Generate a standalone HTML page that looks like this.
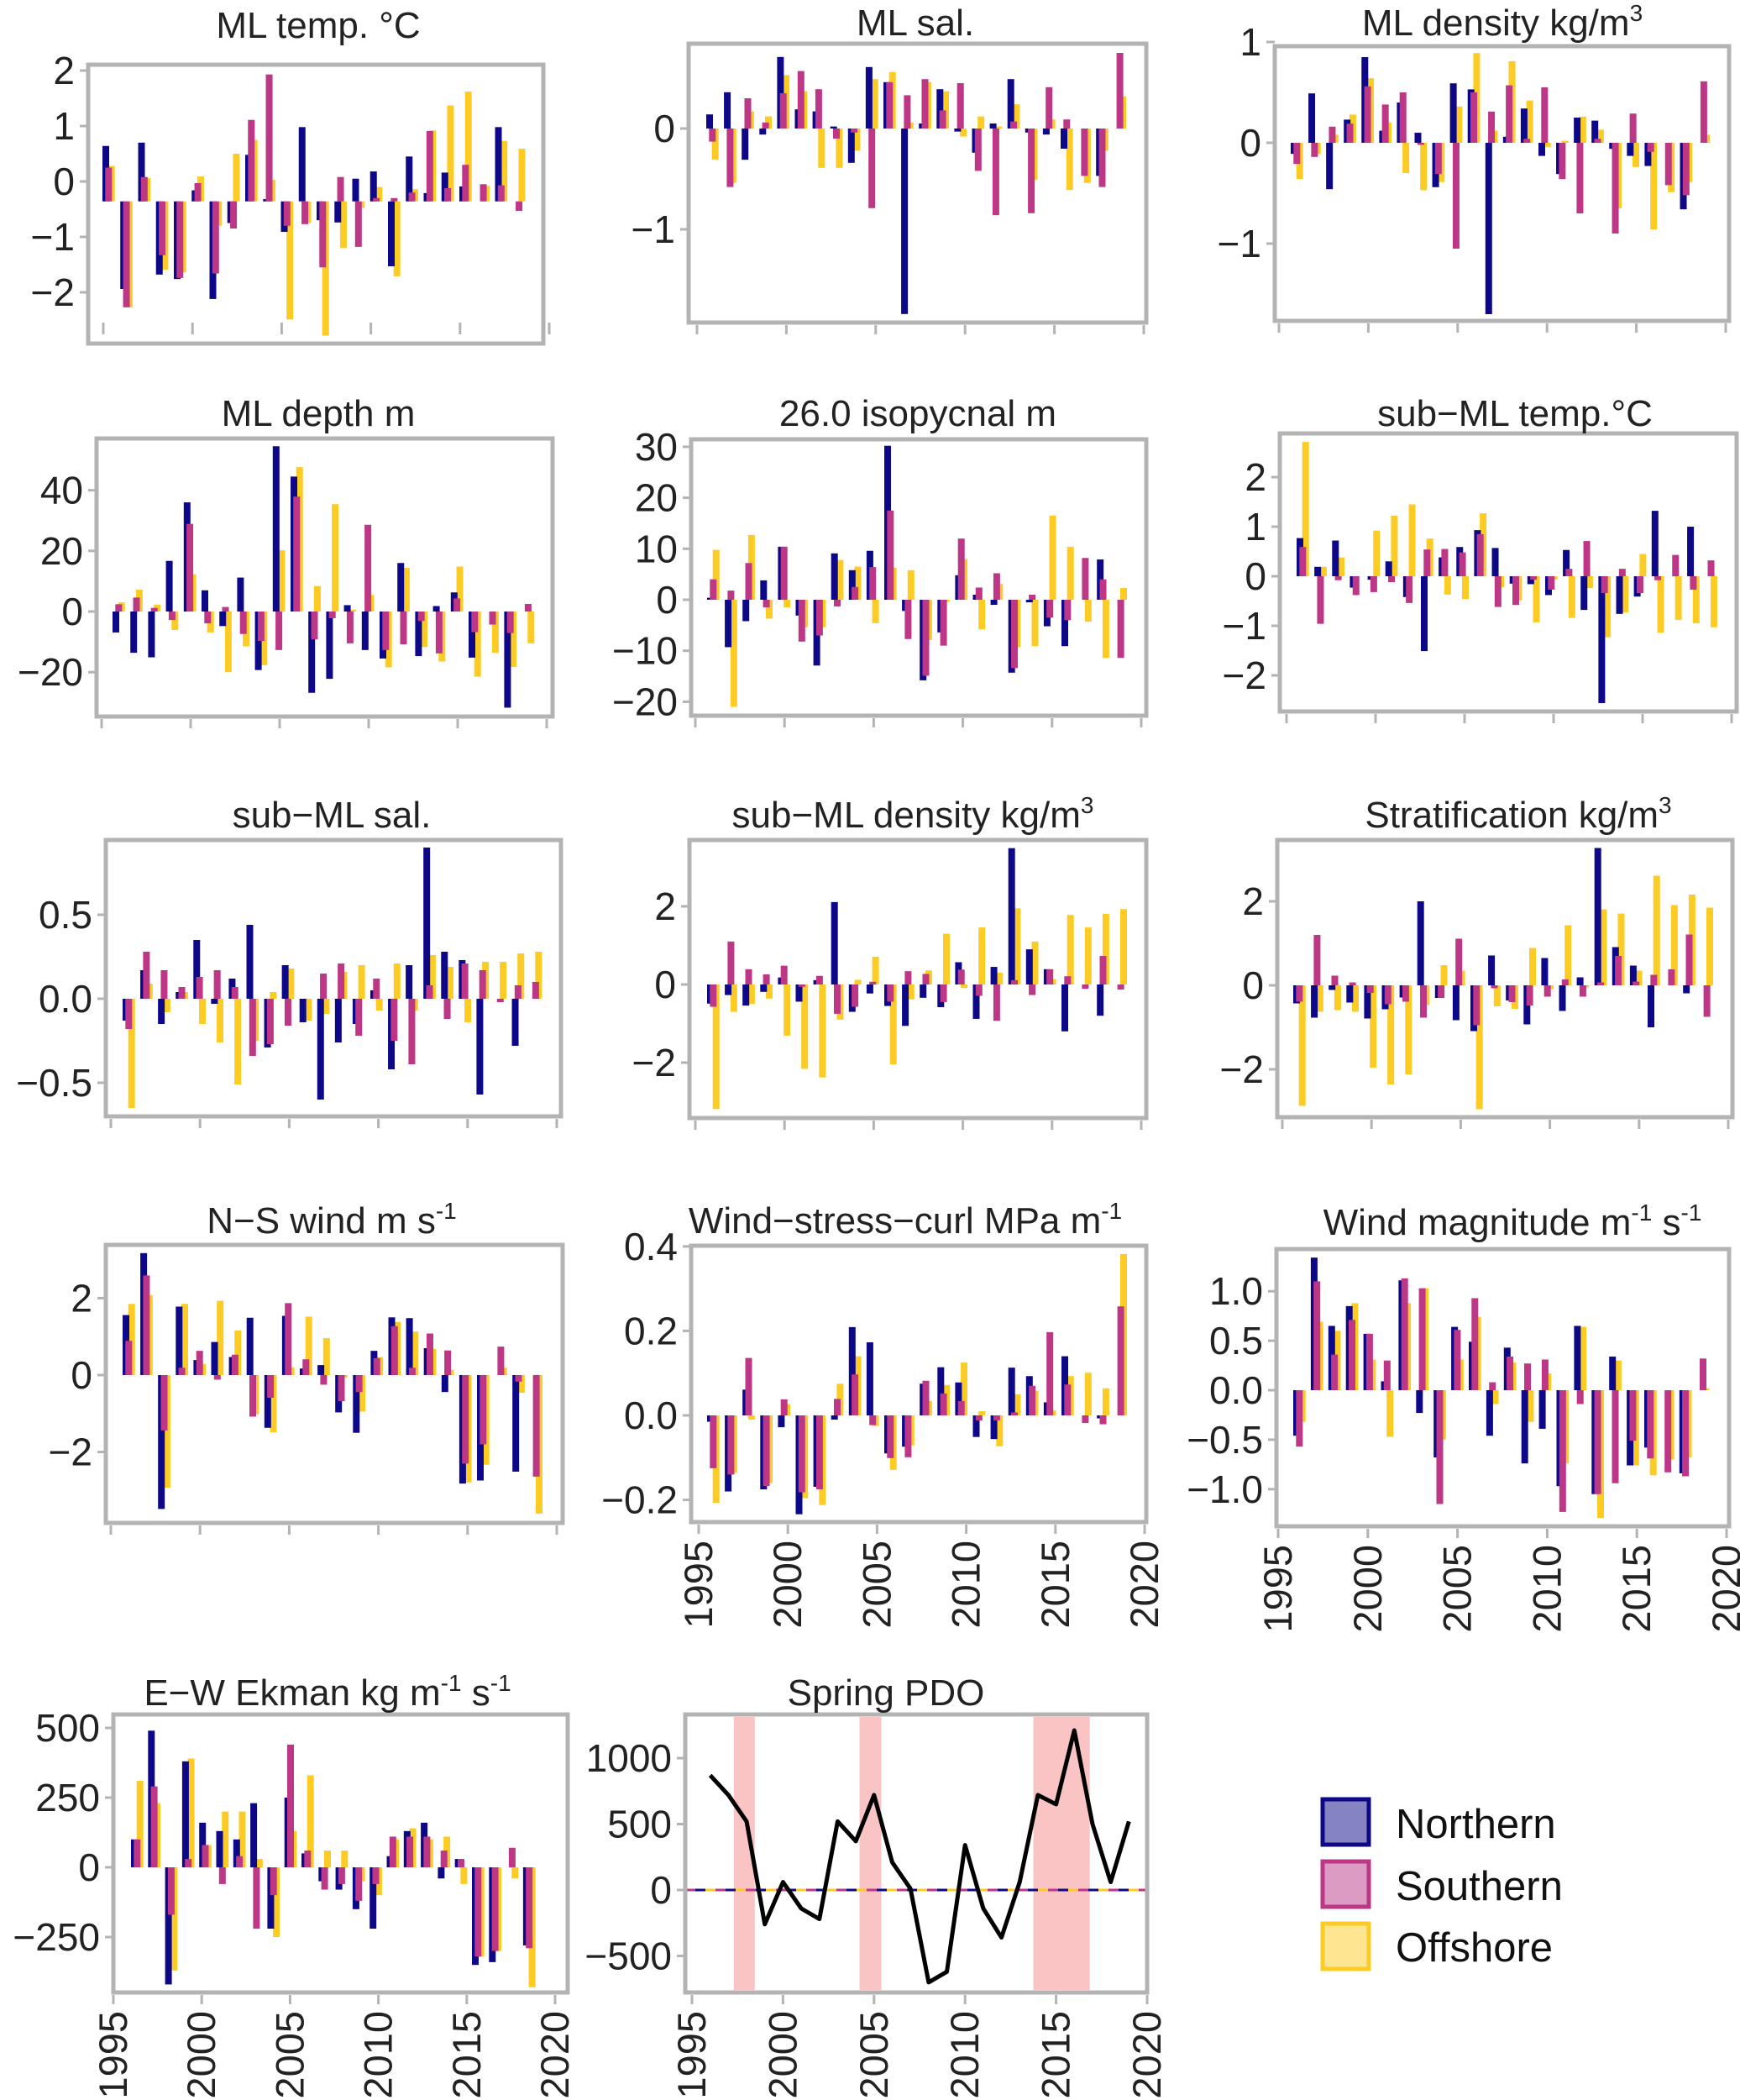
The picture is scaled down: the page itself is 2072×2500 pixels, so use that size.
<!DOCTYPE html>
<html><head><meta charset="utf-8"><style>
html,body{margin:0;padding:0;background:#fff;}
svg{display:block;font-family:"Liberation Sans",Arial,sans-serif;}
</style></head><body>
<svg id="fig" width="2072" height="2500" viewBox="0 0 2072 2500" xmlns="http://www.w3.org/2000/svg">
<g id="legend">
<rect x="1575" y="2142" width="55" height="54" fill="#8683c3" stroke="#0d0887" stroke-width="5"/>
<text x="1662" y="2188" font-size="49" fill="#111">Northern</text>
<rect x="1575" y="2216" width="55" height="54" fill="#dc9bc2" stroke="#bd3786" stroke-width="5"/>
<text x="1662" y="2262" font-size="49" fill="#111">Southern</text>
<rect x="1575" y="2290" width="55" height="54" fill="#fde592" stroke="#fccc25" stroke-width="5"/>
<text x="1662" y="2335" font-size="49" fill="#111">Offshore</text>
</g>
</svg>
<script>
const years=[1996,1997,1998,1999,2000,2001,2002,2003,2004,2005,2006,2007,2008,2009,2010,2011,2012,2013,2014,2015,2016,2017,2018,2019];
const mlTempN=[0.64,-1.94,0.70,-1.68,-1.76,-0.16,-2.12,-0.75,0.48,-0.32,-0.91,0.98,-0.70,-0.74,0.05,0.18,-1.53,0.45,-0.21,0.16,-0.09,-0.36,0.98,-0.36];
const mlTempS=[0.25,-2.27,0.08,-1.33,-1.74,-0.03,-1.66,-0.85,1.11,1.93,-0.80,-0.77,-1.55,0.08,-1.18,-0.30,-0.30,-0.20,0.91,-0.12,0.30,-0.05,-0.07,-0.53];
const mlTempO=[0.28,-2.27,0.06,-1.59,-1.64,0.09,-0.80,0.50,0.75,0.03,-2.49,-0.75,-2.78,-1.20,-0.48,-0.10,-1.71,-0.14,0.92,1.37,1.62,-0.08,0.73,0.59];
const mlSalN=[0.14,0.36,-0.31,-0.06,0.71,0.19,0.17,0.02,-0.34,0.61,0.46,-1.84,0.05,0.39,-0.03,-0.24,0.05,0.49,-0.04,-0.06,-0.20,0,-0.47,0];
const mlSalS=[-0.13,-0.58,0.30,0.06,0.35,0.57,0.39,-0.10,-0.04,-0.79,0.46,0.33,0.49,0.18,0.45,-0.42,-0.86,0.07,-0.84,0.41,0.09,-0.47,-0.58,0.75];
const mlSalO=[-0.31,-0.54,0.17,0.12,0.53,0.37,-0.39,-0.39,-0.22,0.49,0.56,0.06,0.46,0.37,-0.08,0.12,0.02,0.24,-0.51,0.09,-0.61,-0.54,-0.22,0.32];
const mlDenN=[-0.11,0.49,-0.46,0.23,0.85,0.12,0.40,0.10,-0.44,0.59,0.53,-1.70,0.06,0.34,-0.13,-0.31,0.25,0.22,-0.06,-0.13,-0.23,0,-0.66,0];
const mlDenS=[-0.21,-0.14,0.16,0.19,0.56,0.38,0.50,-0.02,-0.31,-1.05,0.50,0.31,0.57,0.04,0.55,-0.36,-0.70,0.04,-0.90,0.29,-0.09,-0.42,-0.52,0.61];
const mlDenO=[-0.36,-0.11,0.08,0.28,0.64,0.20,-0.30,-0.47,-0.39,0.36,0.89,0.12,0.81,0.42,-0.04,0.02,0.26,0.13,-0.65,-0.24,-0.86,-0.49,-0.39,0.08];
const mlDepN=[-6.9,-13.6,-15.1,16.7,36.0,7.0,-4.8,11.2,-19.3,54.5,44.5,-26.8,-22.2,2.1,-12.7,-15.5,16.0,-14.7,1.8,6.3,-15.2,0,-31.7,0];
const mlDepS=[2.4,4.6,1.2,-2.8,28.9,-3.9,1.5,-7.4,-9.7,-12.7,37.9,-9.2,-2.2,-10.5,28.6,-12.7,-10.8,-3.1,-13.8,4.3,-6.8,-4.3,-7.1,2.5];
const mlDepO=[3.0,7.2,2.3,-6.1,12.3,-6.9,-20.0,-11.5,-17.7,20.2,47.6,8.4,35.4,0.6,5.5,-18.4,14.4,-11.7,-16.5,14.8,-21.5,-13.6,-18.3,-10.5];
const isoN=[0.4,-9.3,-4.2,3.8,10.4,-3.1,-12.9,9.1,5.8,9.6,30.2,-2.2,-15.8,-6.4,4.8,1.0,-1.0,-14.3,-0.5,-5.2,-9.1,0,7.9,0];
const isoS=[4.0,1.8,7.2,-1.5,10.4,-8.2,-7.0,-1.3,2.5,6.4,17.5,-7.7,-14.9,-9.0,12.0,2.4,5.2,-13.4,1.0,-3.5,-4.0,8.2,4.0,-11.4];
const isoO=[9.8,-21.0,12.7,-3.7,-1.5,-5.4,-5.4,7.8,6.5,-4.6,6.3,5.8,-7.9,-0.4,8.0,-5.8,3.1,-9.3,-9.1,16.5,10.4,-4.3,-11.4,2.3];
const subTempN=[0.77,0.19,0.72,-0.23,-0.07,0.30,-0.42,-1.51,0.38,0.59,0.93,0.57,-0.15,-0.16,-0.38,0.53,-0.68,-2.56,-0.76,-0.41,1.32,0,1.0,0];
const subTempS=[0.59,-0.96,-0.08,-0.38,-0.32,-0.12,-0.54,0.54,0.55,0.48,0.85,-0.62,-0.58,-0.07,-0.27,0.15,0.71,-0.34,0.15,-0.34,-0.08,0.43,-0.27,0.32];
const subTempO=[2.71,0.19,0.38,0,0.92,1.22,1.45,0.76,-0.37,-0.46,1.27,-0.22,-0.49,-0.93,-0.07,-0.84,-0.24,-1.23,-0.73,0.45,-1.14,-0.88,-0.95,-1.03];
const subSalN=[-0.13,0.17,-0.15,0.04,0.35,-0.03,0.12,0.44,-0.29,0.20,-0.14,-0.60,-0.26,-0.15,0.05,-0.42,0.20,0.90,0.28,0.23,-0.57,0,-0.28,0];
const subSalS=[-0.18,0.28,0.17,0.07,0.13,0.17,0.07,-0.34,-0.27,-0.16,0,0.15,0.21,-0.22,0.12,-0.25,-0.39,0.08,-0.12,0.21,0.17,-0.02,0.08,0.10];
const subSalO=[-0.65,0.09,-0.08,0.04,-0.15,-0.26,-0.51,-0.25,0.04,0.18,-0.13,-0.09,0.16,0.20,-0.07,0.21,-0.07,0.26,0.19,-0.14,0.22,0.22,0.27,0.28];
const subDenN=[-0.49,-0.27,-0.54,-0.19,0.18,-0.44,0.11,2.11,-0.70,-0.23,-0.55,-1.06,-0.34,-0.58,0.57,-0.88,0.45,3.49,0.90,0.39,-1.20,0,-0.80,0];
const subDenS=[-0.57,1.10,0.39,0.26,0.48,-0.06,0.22,-0.75,-0.57,0.07,-0.44,0.34,0.27,-0.45,0.38,-0.29,-0.93,0.11,-0.27,0.39,0.21,-0.11,0.73,-0.13];
const subDenO=[-3.19,-0.70,-0.50,-0.36,-1.31,-2.16,-2.38,-0.90,0.12,0.71,-2.05,-0.38,0.36,1.30,-0.09,1.46,0.30,1.95,1.10,0.14,1.78,1.46,1.81,1.93];
const stratN=[-0.43,-0.77,-0.11,-0.41,-0.79,-0.57,-0.29,2.0,-0.30,-0.83,-1.09,0.71,-0.36,-0.93,0.65,-0.61,0.19,3.27,0.91,0.47,-1.0,0,-0.19,0];
const stratS=[-0.39,1.20,0.23,0.07,-0.18,-0.45,-0.39,-0.77,-0.30,1.11,-0.95,-0.07,-0.40,-0.48,-0.27,0.14,-0.27,0.07,0.70,0.09,0.25,0.38,1.21,-0.75];
const stratO=[-2.87,-0.63,-0.59,-0.63,-1.96,-2.36,-2.12,-0.47,0.48,0.35,-2.95,-0.50,-0.56,0.89,-0.09,1.43,-0.05,1.81,1.71,0.35,2.61,1.91,2.16,1.85];
const nsWindN=[1.56,3.17,-3.48,1.78,0.39,0.86,0.47,1.49,-1.37,1.54,0.17,0.26,-0.97,-1.50,0.63,1.50,1.48,0.70,-0.44,-2.82,-2.74,0,-2.51,0];
const nsWindS=[0.89,2.59,-1.44,0.19,0.63,-0.12,0.53,-1.08,-0.59,1.87,0.41,-0.25,-0.68,-0.44,0.44,1.27,0.19,1.08,0.64,-2.30,-1.80,0.74,-0.17,-2.64];
const nsWindO=[1.85,2.08,-2.93,1.85,0.29,1.93,1.16,-1.02,-1.49,0.20,1.52,0.96,-0.07,-0.95,0.47,1.38,1.13,0.68,0.14,-2.79,-2.33,0.19,-0.46,-3.60];
const wscN=[-0.015,-0.180,0.061,-0.175,-0.028,-0.234,-0.169,-0.010,0.209,0.173,-0.090,-0.074,0.075,0.114,0.078,-0.051,-0.056,0.113,0.093,0.031,0.140,0,-0.007,0];
const wscS=[-0.125,-0.140,0.136,-0.167,0.038,-0.182,-0.175,0.039,0.097,-0.023,-0.101,-0.099,0.082,0.052,0.034,-0.012,-0.012,0.007,0.070,0.197,0.073,-0.018,-0.021,0.258];
const wscO=[-0.207,-0.136,-0.010,-0.160,0.027,-0.196,-0.212,0.075,0.140,-0.025,-0.129,-0.071,0.034,0.072,0.125,0.010,-0.073,0.050,0.058,0.012,0.093,0.101,0.064,0.382];
const windMagN=[-0.46,1.34,0.65,0.85,0.57,0.09,1.11,-0.23,-0.68,0.64,0.49,-0.46,0.43,-0.74,-0.39,-0.97,0.65,-1.05,0.34,-0.76,-0.58,0,-0.84,0];
const windMagS=[-0.57,1.10,0.36,0.71,0.57,0.30,1.13,1.03,-1.15,0.61,0.93,0.08,0.34,0.27,0.31,-1.23,-0.14,-1.05,-0.94,-0.51,-0.69,-0.83,-0.87,0.32];
const windMagO=[-0.32,0.69,0.60,0.88,0.31,-0.47,0.88,1.03,-0.50,0.31,0.74,-0.14,0.28,-0.32,0.17,-0.74,0.64,-1.29,0.30,-0.76,-0.86,-0.70,-0.68,0.02];
const ekmanN=[100,490,-420,380,160,130,100,230,-220,250,50,-50,-80,-150,-220,40,130,160,-40,30,-350,-340,0,-280];
const ekmanS=[100,290,-170,30,80,-60,40,-220,-100,440,60,-80,-60,-120,-60,110,110,110,60,30,-320,-300,70,-290];
const ekmanO=[310,230,-370,390,80,200,200,30,-250,130,330,60,60,-50,-100,100,140,100,110,-60,-320,-300,-40,-430];
const pdoValues=[870,720,520,-260,60,-140,-220,520,370,720,210,10,-700,-620,340,-140,-360,60,720,650,1210,500,60,520];
const pdoShadeStart=[1997.3,2004.2,2013.75];
const pdoShadeEnd=[1998.45,2005.4,2016.85];

const NS='http://www.w3.org/2000/svg';
const svg=document.getElementById('fig');
const COL={N:'#0d0887',S:'#bd3786',O:'#fccc25'};
function mk(tag,attrs,parent){const e=document.createElementNS(NS,tag);for(const k in attrs)e.setAttribute(k,attrs[k]);(parent||svg).appendChild(e);return e;}
function fmt(v,d){let s=v.toFixed(d);if(v<0)s='\u2212'+s.slice(1);return s;}

const panels=[
{id:'ml-temp',title:['ML temp. \u00b0C'],tx:379,ty:45,box:[105,77,647,409],y0:216,ppu:66,base:-0.36,yt:[2,1,0,-1,-2],dec:0,x95:123,x20:654,fx:122,sp:21.25,inside:true,d:[mlTempN,mlTempS,mlTempO]},
{id:'ml-sal',title:['ML sal.'],tx:1090,ty:42,box:[820,52,1365,384],y0:153,ppu:120,base:0,yt:[0,-1],dec:0,x95:830,x20:1362,fx:841,sp:21.1,d:[mlSalN,mlSalS,mlSalO]},
{id:'ml-density',title:['ML density kg/m','3'],tx:1789,ty:42,box:[1518,55,2059,382],y0:170,ppu:120,base:0,yt:[1,0,-1],dec:0,x95:1523,x20:2055,fx:1537,sp:21.07,d:[mlDenN,mlDenS,mlDenO]},
{id:'ml-depth',title:['ML depth m'],tx:379,ty:507,box:[115,522,658,853],y0:728,ppu:3.61,base:0,yt:[40,20,0,-20],dec:0,x95:121,x20:651,fx:134,sp:21.2,d:[mlDepN,mlDepS,mlDepO]},
{id:'isopycnal',title:['26.0 isopycnal m'],tx:1093,ty:507,box:[823,523,1365,852],y0:714,ppu:6.07,base:0,yt:[30,20,10,0,-10,-20],dec:0,x95:828,x20:1359,fx:842,sp:21.1,d:[isoN,isoS,isoO]},
{id:'sub-ml-temp',title:['sub\u2212ML temp.\u00b0C'],tx:1804,ty:507,box:[1524,516,2068,847],y0:686,ppu:59,base:0,yt:[2,1,0,-1,-2],dec:0,x95:1532,x20:2062,fx:1544,sp:21.14,d:[subTempN,subTempS,subTempO]},
{id:'sub-ml-sal',title:['sub\u2212ML sal.'],tx:395,ty:985,box:[126,1000,668,1329],y0:1189,ppu:200,base:0,yt:[0.5,0,-0.5],dec:1,x95:132,x20:663,fx:146,sp:21.07,d:[subSalN,subSalS,subSalO]},
{id:'sub-ml-density',title:['sub\u2212ML density kg/m','3'],tx:1087,ty:985,box:[821,1000,1365,1331],y0:1172,ppu:46.5,base:0,yt:[2,0,-2],dec:0,x95:828,x20:1359,fx:842,sp:21.1,d:[subDenN,subDenS,subDenO]},
{id:'stratification',title:['Stratification kg/m','3'],tx:1808,ty:985,box:[1521,1000,2063,1330],y0:1173,ppu:50,base:0,yt:[2,0,-2],dec:0,x95:1527,x20:2058,fx:1540,sp:21.1,d:[stratN,stratS,stratO]},
{id:'ns-wind',title:['N\u2212S wind m s','-1'],tx:395,ty:1468,box:[126,1482,670,1813],y0:1637,ppu:45.8,base:0,yt:[2,0,-2],dec:0,x95:132,x20:663,fx:146,sp:21.1,d:[nsWindN,nsWindS,nsWindO]},
{id:'wind-stress-curl',title:['Wind\u2212stress\u2212curl MPa m','-1'],tx:1078,ty:1468,box:[823,1483,1365,1812],y0:1685,ppu:503,base:0,yt:[0.4,0.2,0,-0.2],dec:1,x95:832,x20:1363,fx:842,sp:21.1,xl:true,d:[wscN,wscS,wscO]},
{id:'wind-magnitude',title:['Wind magnitude m','-1',' s','-1'],tx:1801,ty:1470,box:[1520,1487,2059,1817],y0:1655,ppu:117.8,base:0,yt:[1,0.5,0,-0.5,-1],dec:1,x95:1522,x20:2056,fx:1540,sp:20.9,xl:true,d:[windMagN,windMagS,windMagO]},
{id:'ew-ekman',title:['E\u2212W Ekman kg m','-1',' s','-1'],tx:390,ty:2030,box:[135,2041,676,2372],y0:2223,ppu:0.332,base:0,yt:[500,250,0,-250],dec:0,x95:135,x20:661,fx:156,sp:20.3,xl:true,d:[ekmanN,ekmanS,ekmanO]}
];

function drawFrame(p,g){
  const [l,t,r,b]=p.box;
  const tt=mk('text',{x:p.tx,y:p.ty,'font-size':44,'text-anchor':'middle',fill:'#222'},g);
  
  
  p.title.forEach((s,i)=>{const ts=mk('tspan',{},tt);if(i%2===1){ts.setAttribute('font-size','28');ts.setAttribute('dy','-17');}else if(i>0){ts.setAttribute('dy','17');}ts.textContent=s;});
  p.yt.forEach(v=>{
    const y=p.y0-v*p.ppu;
    const tk=mk('line',{x1:l-10,x2:l,y1:y,y2:y,stroke:'#b3b3b3','stroke-width':3},g);
    
    
    const lb=mk('text',{x:l-16,y:y+16,'font-size':46,'text-anchor':'end',fill:'#222'},g);
    
    
    lb.textContent=fmt(v,p.dec);
  });
  for(let k=0;k<6;k++){
    const yr=1995+5*k;const x=p.x95+(p.x20-p.x95)*(yr-1995)/25;
    const y1=p.inside?b-25:b+3, y2=p.inside?b-11:b+14;
    const tk=mk('line',{x1:x,x2:x,y1:y1,y2:y2,stroke:'#b3b3b3','stroke-width':3},g);
    
    
    if(p.xl){
      const lb=mk('text',{x:0,y:0,'font-size':47,'text-anchor':'end',fill:'#222',transform:`translate(${x+16},${b+22}) rotate(-90)`},g);
      
      
      lb.textContent=yr;
    }
  }
}

panels.forEach(p=>{
  const g=mk('g',{});
  
  
  const [l,t,r,b]=p.box;
  const yS=v=>p.y0-v*p.ppu;
  const yb=yS(p.base);
  const order=[[2,'O','offshore',6.7],[0,'N','northern',0],[1,'S','southern',3.3]];
  order.forEach(([si,c,nm,off])=>{
    const arr=p.d[si];
    years.forEach((yr,i)=>{
      const v=arr[i];
      const yv=yS(v);
      const x=p.fx+i*p.sp+off;
      const rc=mk('rect',{x:x,y:Math.min(yv,yb),width:8,height:Math.max(Math.abs(yv-yb),0.01),fill:COL[c]},g);
      
      
    });
  });
  const fr=mk('rect',{x:l,y:t,width:r-l,height:b-t,fill:'none',stroke:'#b3b3b3','stroke-width':5},g);
  
  
  drawFrame(p,g);
});

(function(){
  const p={id:'spring-pdo',title:['Spring PDO'],tx:1055,ty:2030,box:[816,2041,1366,2372],y0:2250,ppu:0.157,yt:[1000,500,0,-500],dec:0,x95:824,x20:1366,xl:true};
  const g=mk('g',{});
  
  
  const [l,t,r,b]=p.box;
  const xS=yr=>p.x95+(p.x20-p.x95)*(yr-1995)/25;
  const yS=v=>p.y0-v*p.ppu;
  pdoShadeStart.forEach((s,i)=>{
    const sh=mk('rect',{x:xS(s),y:t+3,width:xS(pdoShadeEnd[i])-xS(s),height:b-t-6,fill:'#fbc4c4'},g);
    
    
  });
  [['#bd3786',0],['#0d0887',12],['#fccc25',24]].forEach(([c,o])=>{
    const dl=mk('line',{x1:l,x2:r,y1:yS(0),y2:yS(0),stroke:c,'stroke-width':3,'stroke-dasharray':'12 24','stroke-dashoffset':-o},g);
    
    
  });
  const pts=years.map((yr,i)=>xS(yr)+','+yS(pdoValues[i])).join(' ');
  const pl=mk('polyline',{points:pts,fill:'none',stroke:'#000','stroke-width':5,'stroke-linejoin':'round'},g);
  
  
  const fr=mk('rect',{x:l,y:t,width:r-l,height:b-t,fill:'none',stroke:'#b3b3b3','stroke-width':5},g);
  
  
  drawFrame(p,g);
})();
</script>
</body></html>
